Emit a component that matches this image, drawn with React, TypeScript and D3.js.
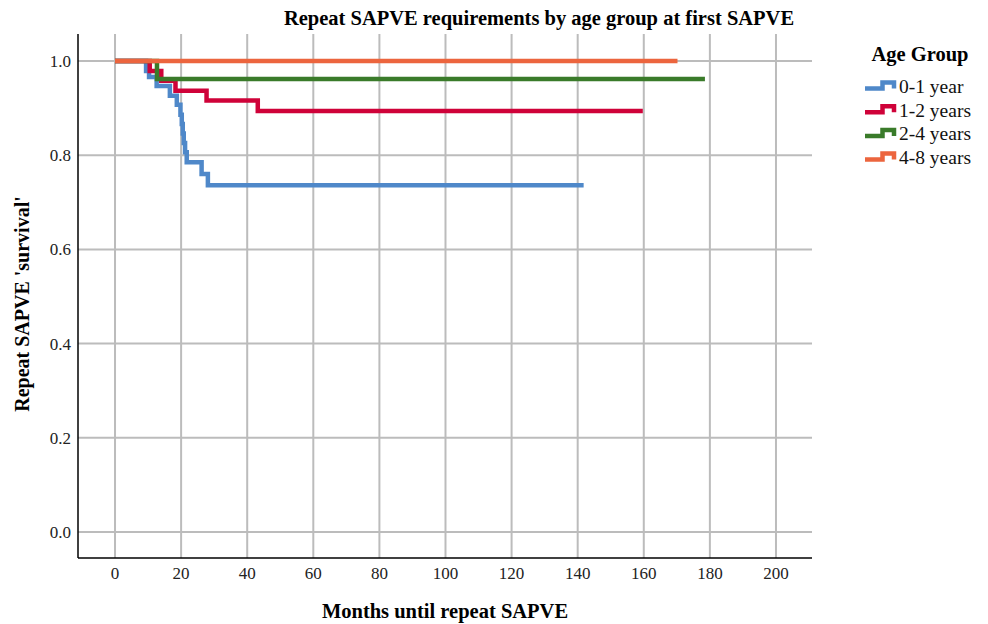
import React from 'react'
import * as d3 from 'd3'

const groups = ['0-1 year', '1-2 years', '2-4 years', '4-8 years']
const colors = ['#4f88c9', '#cf0239', '#3a7b2a', '#ec653e']

// step times (months) and survival at each step
const infantTimes = [0, 9.4, 10.3, 12.6, 16.6, 18.7, 19.8, 20.2, 20.5, 20.8, 21.2, 21.7, 26.2, 28.1, 141.8]
const infantSurv = [1, 0.979, 0.966, 0.947, 0.926, 0.907, 0.886, 0.866, 0.846, 0.826, 0.806, 0.785, 0.76, 0.736, 0.736]
const oneTwoTimes = [0, 10.5, 14.0, 18.3, 27.7, 43.2, 159.7]
const oneTwoSurv = [1, 0.979, 0.958, 0.937, 0.916, 0.894, 0.894]
const twoFourTimes = [0, 12.7, 178.5]
const twoFourSurv = [1, 0.962, 0.962]
const fourEightTimes = [0, 170.2]
const fourEightSurv = [1, 1]

const xTicks = [0, 20, 40, 60, 80, 100, 120, 140, 160, 180, 200]
const yTicks = [0, 0.2, 0.4, 0.6, 0.8, 1.0]

const seriesTimes = [infantTimes, oneTwoTimes, twoFourTimes, fourEightTimes]
const seriesSurv = [infantSurv, oneTwoSurv, twoFourSurv, fourEightSurv]

const App: React.FC = () => {
  const width = 988
  const height = 624
  const left = 78
  const right = 812
  const top = 34
  const bottom = 558

  const xScale = d3.scaleLinear().domain([-11.2, 210.9]).range([left, right])
  const yScale = d3.scaleLinear().domain([-0.0552, 1.0573]).range([bottom, top])

  const line = d3.line<[number, number]>()
    .x(d => xScale(d[0]))
    .y(d => yScale(d[1]))
    .curve(d3.curveStepAfter)

  const font = 'Liberation Serif, serif'

  return (
    <svg width={width} height={height} style={{ position: 'absolute', left: 0, top: 0, background: '#fff' }} fontFamily={font}>
      <rect width={width} height={height} fill="#fff" />
      {/* grid */}
      {yTicks.map(t => (
        <line key={'gy' + t} x1={left} x2={right} y1={yScale(t)} y2={yScale(t)} stroke="#bcbcbc" strokeWidth={2} />
      ))}
      {xTicks.map(t => (
        <line key={'gx' + t} x1={xScale(t)} x2={xScale(t)} y1={top} y2={bottom} stroke="#bcbcbc" strokeWidth={2} />
      ))}
      {/* axes */}
      <line x1={left} x2={left} y1={top} y2={bottom} stroke="#000" strokeWidth={1.5} />
      <line x1={left} x2={right} y1={bottom} y2={bottom} stroke="#000" strokeWidth={1.5} />
      {yTicks.map(t => (
        <text key={'ly' + t} x={left - 7} y={yScale(t)} dy="0.35em" textAnchor="end" fontSize={17} fill="#222">
          {d3.format('.1f')(t)}
        </text>
      ))}
      {xTicks.map(t => (
        <text key={'lx' + t} x={xScale(t)} y={579} textAnchor="middle" fontSize={17} fill="#222">
          {t}
        </text>
      ))}
      {/* survival curves */}
      {seriesTimes.map((times, i) => (
        <path
          key={groups[i]}
          d={line(times.map((t, j) => [t, seriesSurv[i][j]] as [number, number])) || ''}
          fill="none"
          stroke={colors[i]}
          strokeWidth={4.5}
          strokeLinejoin="miter"
        />
      ))}
      {/* titles */}
      <text x={539} y={25} textAnchor="middle" fontSize={20.5} fontWeight="bold">
        Repeat SAPVE requirements by age group at first SAPVE
      </text>
      <text x={445} y={618} textAnchor="middle" fontSize={20.5} fontWeight="bold">
        Months until repeat SAPVE
      </text>
      <text transform="translate(29,304) rotate(-90)" textAnchor="middle" fontSize={20} fontWeight="bold">
        Repeat SAPVE 'survival'
      </text>
      {/* legend */}
      <text x={920} y={61} textAnchor="middle" fontSize={20.5} fontWeight="bold">Age Group</text>
      {groups.map((g, i) => {
        const cy = 86 + i * 23.7
        return (
          <g key={'lg' + g}>
            <path
              d={`M865,${cy + 2.5}H882.5V${cy - 3.5}H894V${cy + 2.5}`}
              fill="none"
              stroke={colors[i]}
              strokeWidth={4.5}
            />
            <text x={899} y={cy} dy="0.35em" fontSize={19.5} fill="#111">{g}</text>
          </g>
        )
      })}
    </svg>
  )
}

export default App
